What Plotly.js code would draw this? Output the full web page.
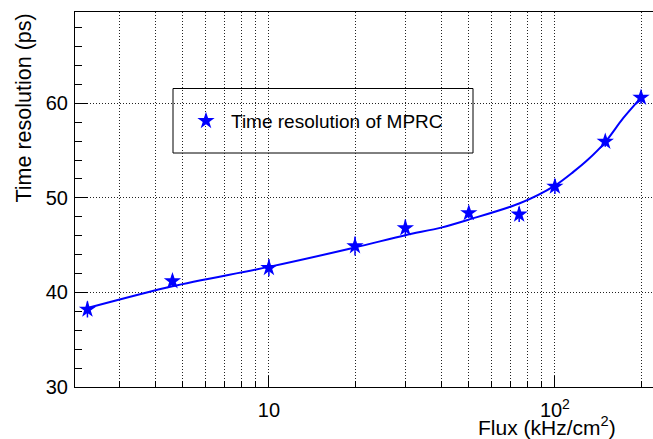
<!DOCTYPE html>
<html>
<head>
<meta charset="utf-8">
<script src="https://cdn.plot.ly/plotly-3.0.1.min.js"></script>
<style>html,body{margin:0;padding:0;background:#fff;}#chart{width:653px;height:439px;}</style>
</head>
<body>
<div id="chart"></div>
<script>
// Measured points
const fluxValues = [2.32, 4.6, 10, 20, 30, 50, 75, 100, 150, 200];
const timeResolution = [38.2, 41.2, 42.6, 44.9, 46.8, 48.4, 48.25, 51.2, 55.95, 60.6];
const timeErrors = [0.85, 0.6, 0.9, 1.0, 0.9, 0.55, 0.8, 0.8, 0.55, 0.65];
// Fit curve
const fitFlux = [2.32, 4.6, 10, 20, 30, 40, 50, 75, 100, 116, 130, 150, 173, 200];
const fitTime = [38.35, 40.65, 42.7, 44.75, 46.05, 46.85, 47.7, 49.4, 51.3, 52.75, 54.0, 55.9, 58.4, 60.6];
// Axis ticks
const xMajorTicks = [10, 100];
const xMajorLabels = ["10", "10<sup>2</sup>"];
const xMinorTicks = [3, 4, 5, 6, 7, 8, 9, 20, 30, 40, 50, 60, 70, 80, 90, 200];
const legendLabel = "Time resolution of MPRC";
const xTitle = "Flux (kHz/cm<sup>2</sup>)";
const yTitle = "Time resolution (ps)";

const font = "Liberation Sans, Arial, Helvetica, sans-serif";
const W = 653, H = 439;
const mL = 75, mR = 0, mT = 12, mB = 52;
const pw = W - mL - mR, ph = H - mT - mB;
const px = v => (v - mL) / pw;
const py = v => (H - mB - v) / ph;
const dots = "1px,2px";

const traces = [
  {
    x: fitFlux, y: fitTime, type: "scatter", mode: "lines",
    line: {color: "#0000ff", width: 2, shape: "spline", smoothing: 0.8},
    showlegend: false, hoverinfo: "skip"
  },
  {
    x: fluxValues, y: timeResolution, type: "scatter", mode: "markers",
    name: legendLabel,
    marker: {symbol: "star", size: 13, color: "#0000ff", line: {width: 0}},
    error_y: {type: "data", array: timeErrors, visible: true, color: "#0000ff", thickness: 1.5, width: 0}
  }
];

const layout = {
  width: W, height: H,
  margin: {l: mL, r: mR, t: mT, b: mB, pad: 0},
  paper_bgcolor: "#ffffff", plot_bgcolor: "#ffffff",
  font: {family: font, size: 20, color: "#000"},
  showlegend: true,
  legend: {
    x: px(181), y: py(121), xanchor: "left", yanchor: "middle",
    bgcolor: "rgba(0,0,0,0)", borderwidth: 0, itemwidth: 40,
    font: {family: font, size: 19, color: "#000"}
  },
  xaxis: {
    type: "log", range: [0.322, 2.343],
    tickmode: "array", tickvals: xMajorTicks, ticktext: xMajorLabels,
    ticks: "inside", ticklen: 11, tickwidth: 1, tickcolor: "#000",
    showgrid: true, gridcolor: "#222", griddash: dots, gridwidth: 1,
    minor: {tickmode: "array", tickvals: xMinorTicks, ticks: "inside", ticklen: 6, tickwidth: 1, tickcolor: "#000",
            showgrid: true, gridcolor: "#222", griddash: dots, gridwidth: 1},
    showline: true, linecolor: "#000", linewidth: 1, mirror: true,
    zeroline: false, tickfont: {family: font, size: 20}, ticklabelstandoff: 5
  },
  yaxis: {
    range: [30, 69.65], tickmode: "array", tickvals: [30, 40, 50, 60],
    ticks: "inside", ticklen: 13, tickwidth: 1, tickcolor: "#000",
    showgrid: true, gridcolor: "#222", griddash: dots, gridwidth: 1,
    minor: {dtick: 2, tick0: 30, ticks: "inside", ticklen: 7, tickwidth: 1, tickcolor: "#000", showgrid: false},
    showline: true, linecolor: "#000", linewidth: 1, mirror: true,
    zeroline: false, tickfont: {family: font, size: 20}, ticklabelstandoff: 2
  },
  shapes: [
    {type: "rect", xref: "paper", yref: "paper",
     x0: px(173), x1: px(473), y0: py(153), y1: py(88.5),
     line: {color: "#000", width: 1}, fillcolor: "#ffffff", layer: "below"}
  ],
  annotations: [
    {text: xTitle, xref: "paper", yref: "paper", x: px(618), y: py(441), xanchor: "right", yanchor: "bottom",
     showarrow: false, font: {family: font, size: 21, color: "#000"}},
    {text: yTitle, xref: "paper", yref: "paper", x: px(9), y: 1, xanchor: "left", yanchor: "top",
     textangle: -90, showarrow: false, font: {family: font, size: 21.5, color: "#000"}}
  ]
};

Plotly.newPlot("chart", traces, layout, {displayModeBar: false, staticPlot: true});
</script>
</body>
</html>
